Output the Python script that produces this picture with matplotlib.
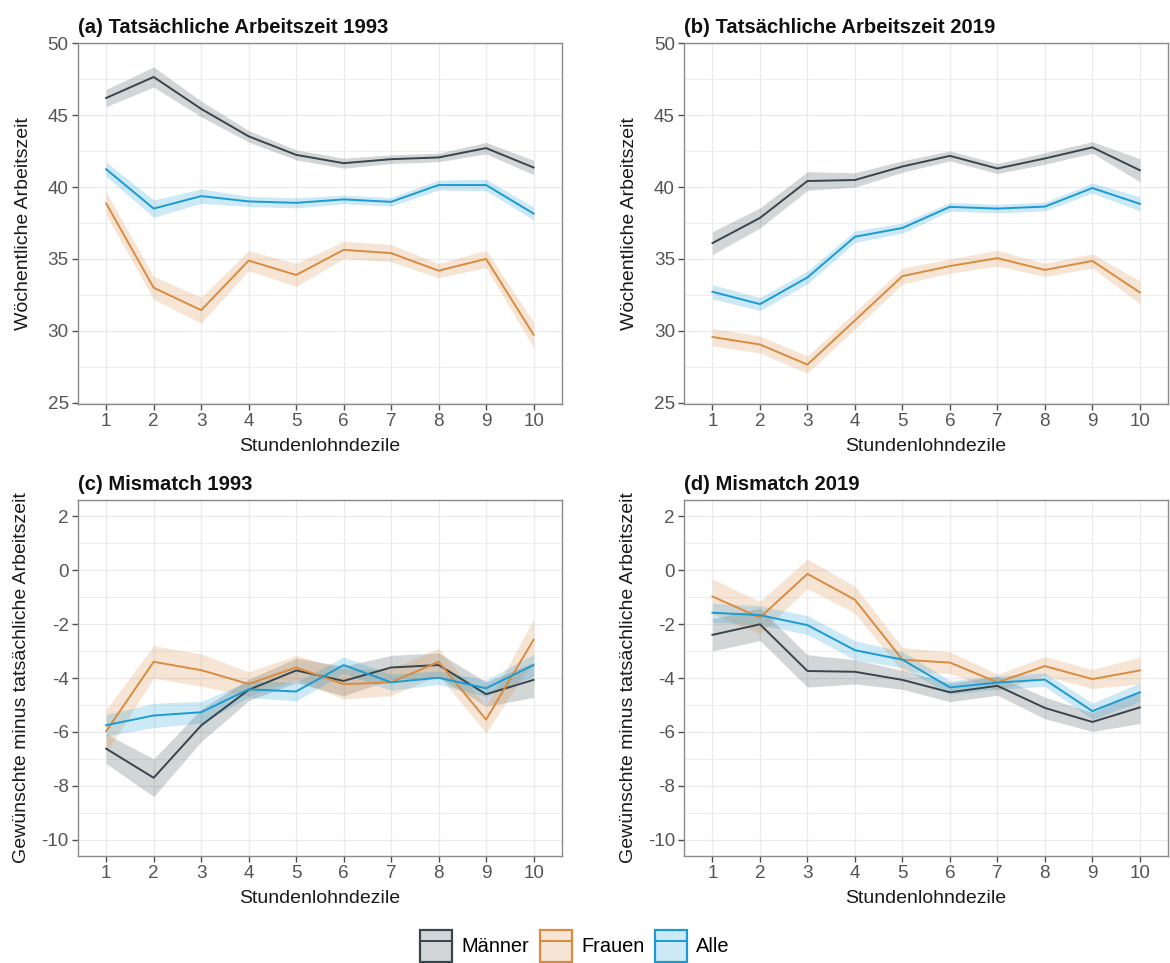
import matplotlib
matplotlib.use("Agg")
import matplotlib.pyplot as plt
from matplotlib.patches import Patch
from matplotlib.lines import Line2D
from matplotlib.ticker import MultipleLocator
import numpy as np

plt.rcParams['font.family'] = ['Liberation Sans', 'DejaVu Sans']
plt.rcParams['axes.unicode_minus'] = False

deciles = [1, 2, 3, 4, 5, 6, 7, 8, 9, 10]
groups = ["Männer", "Frauen", "Alle"]

# (a) Tatsächliche Arbeitszeit 1993
a_maenner = [46.2, 47.66, 45.44, 43.53, 42.24, 41.66, 41.94, 42.06, 42.71, 41.36]
a_maenner_ci = [0.6, 0.7, 0.55, 0.4, 0.35, 0.35, 0.3, 0.3, 0.4, 0.5]
a_frauen = [38.86, 32.99, 31.43, 34.88, 33.88, 35.63, 35.4, 34.18, 35.0, 29.72]
a_frauen_ci = [0.8, 0.8, 0.9, 0.7, 0.8, 0.6, 0.6, 0.5, 0.6, 0.9]
a_alle = [41.24, 38.5, 39.37, 39.0, 38.9, 39.14, 38.97, 40.14, 40.14, 38.15]
a_alle_ci = [0.5, 0.6, 0.5, 0.35, 0.35, 0.3, 0.3, 0.35, 0.4, 0.45]

# (b) Tatsächliche Arbeitszeit 2019
b_maenner = [36.1, 37.85, 40.42, 40.49, 41.43, 42.17, 41.29, 41.99, 42.76, 41.17]
b_maenner_ci = [0.8, 0.7, 0.65, 0.5, 0.4, 0.35, 0.35, 0.4, 0.4, 0.8]
b_frauen = [29.56, 29.04, 27.64, 30.72, 33.8, 34.5, 35.05, 34.23, 34.86, 32.66]
b_frauen_ci = [0.6, 0.6, 0.6, 0.6, 0.55, 0.5, 0.55, 0.45, 0.5, 0.8]
b_alle = [32.71, 31.85, 33.71, 36.54, 37.15, 38.62, 38.5, 38.64, 39.93, 38.83]
b_alle_ci = [0.5, 0.45, 0.45, 0.4, 0.35, 0.3, 0.3, 0.3, 0.35, 0.5]

# (c) Mismatch 1993
c_maenner = [-6.62, -7.70, -5.76, -4.44, -3.72, -4.11, -3.61, -3.52, -4.60, -4.07]
c_maenner_ci = [0.55, 0.7, 0.6, 0.4, 0.45, 0.55, 0.45, 0.45, 0.45, 0.65]
c_frauen = [-5.97, -3.40, -3.71, -4.22, -3.61, -4.23, -4.16, -3.40, -5.54, -2.58]
c_frauen_ci = [0.8, 0.6, 0.6, 0.45, 0.45, 0.55, 0.5, 0.5, 0.5, 0.75]
c_alle = [-5.75, -5.39, -5.27, -4.42, -4.50, -3.52, -4.16, -3.99, -4.38, -3.52]
c_alle_ci = [0.4, 0.45, 0.4, 0.3, 0.35, 0.3, 0.3, 0.25, 0.3, 0.4]

# (d) Mismatch 2019
d_maenner = [-2.40, -2.01, -3.74, -3.77, -4.07, -4.53, -4.29, -5.11, -5.63, -5.09]
d_maenner_ci = [0.6, 0.6, 0.6, 0.45, 0.35, 0.35, 0.35, 0.4, 0.35, 0.6]
d_frauen = [-0.98, -1.76, -0.14, -1.10, -3.32, -3.43, -4.16, -3.56, -4.04, -3.72]
d_frauen_ci = [0.65, 0.6, 0.55, 0.5, 0.45, 0.4, 0.3, 0.35, 0.35, 0.5]
d_alle = [-1.58, -1.67, -2.04, -2.97, -3.32, -4.35, -4.17, -4.06, -5.23, -4.53]
d_alle_ci = [0.35, 0.35, 0.35, 0.35, 0.3, 0.25, 0.25, 0.25, 0.3, 0.35]

titles = ["(a) Tatsächliche Arbeitszeit 1993", "(b) Tatsächliche Arbeitszeit 2019",
          "(c) Mismatch 1993", "(d) Mismatch 2019"]
ylabels = ["Wöchentliche Arbeitszeit", "Wöchentliche Arbeitszeit",
           "Gewünschte minus tatsächliche Arbeitszeit", "Gewünschte minus tatsächliche Arbeitszeit"]

line_colors = {"Männer": "#38454c", "Frauen": "#d98b40", "Alle": "#1b9bd2"}
ribbon_alpha = 0.22

panels = [
    [(a_maenner, a_maenner_ci), (a_frauen, a_frauen_ci), (a_alle, a_alle_ci)],
    [(b_maenner, b_maenner_ci), (b_frauen, b_frauen_ci), (b_alle, b_alle_ci)],
    [(c_maenner, c_maenner_ci), (c_frauen, c_frauen_ci), (c_alle, c_alle_ci)],
    [(d_maenner, d_maenner_ci), (d_frauen, d_frauen_ci), (d_alle, d_alle_ci)],
]

W, H = 1170, 963
fig = plt.figure(figsize=(W / 100, H / 100), dpi=100)

axw = 0.414
rects = [
    [0.0664, 0.5805, axw, 0.3752],
    [0.5846, 0.5805, axw, 0.3752],
    [0.0664, 0.1111, axw, 0.3697],
    [0.5846, 0.1111, axw, 0.3697],
]
ylabel_x = [-0.094, -0.094, -0.098, -0.098]

border_col = "#8a8a8a"
grid_col = "#ebebeb"
tick_col = "#4d4d4d"

for i, rect in enumerate(rects):
    ax = fig.add_axes(rect)
    x = np.array(deciles)
    for g, (vals, ci) in zip(groups, panels[i]):
        v = np.array(vals)
        c = np.array(ci)
        ax.fill_between(x, v - c, v + c, color=line_colors[g], alpha=ribbon_alpha,
                        linewidth=0, zorder=2)
    for g, (vals, ci) in zip(groups, panels[i]):
        ax.plot(x, vals, color=line_colors[g], linewidth=1.4, zorder=3)

    ax.set_xlim(0.4, 10.6)
    ax.set_xticks(deciles)
    if i < 2:
        ax.set_ylim(24.9, 50.05)
        ax.yaxis.set_major_locator(MultipleLocator(5))
        ax.yaxis.set_minor_locator(MultipleLocator(2.5))
    else:
        ax.set_ylim(-10.6, 2.6)
        ax.set_yticks([2, 0, -2, -4, -6, -8, -10])
        ax.yaxis.set_minor_locator(MultipleLocator(1))
    ax.grid(True, which="major", color=grid_col, linewidth=1.0, zorder=0)
    ax.grid(True, which="minor", axis="y", color=grid_col, linewidth=0.6, zorder=0)
    ax.set_axisbelow(True)
    for s in ax.spines.values():
        s.set_color(border_col)
        s.set_linewidth(1.0)
    ax.tick_params(axis="both", which="major", colors=tick_col, labelcolor="#555555",
                   labelsize=13.6, length=4.5, width=1.0, pad=2)
    ax.tick_params(axis="y", which="minor", length=0)
    ax.set_xlabel("Stundenlohndezile", fontsize=14, color="#1a1a1a", labelpad=5.5)
    ax.set_ylabel(ylabels[i], fontsize=14, color="#1a1a1a")
    ax.yaxis.set_label_coords(ylabel_x[i], 0.5)
    ax.set_title(titles[i], loc="left", fontsize=14.6, fontweight="bold", color="#111111", pad=7)

handles = []
for g in groups:
    p = Patch(facecolor=matplotlib.colors.to_rgba(line_colors[g], ribbon_alpha),
              edgecolor=line_colors[g], linewidth=1.6)
    l = Line2D([0], [0], color=line_colors[g], linewidth=1.4)
    handles.append((p, l))

fig.legend(handles, groups, loc="center", bbox_to_anchor=(0.4915, 1 - 946 / H), ncol=3,
           frameon=False, fontsize=14.4, handlelength=1.6, handleheight=2.15,
           handletextpad=0.45, columnspacing=0.55, borderpad=0.2)

fig.savefig("out.png", dpi=100, facecolor="white")
